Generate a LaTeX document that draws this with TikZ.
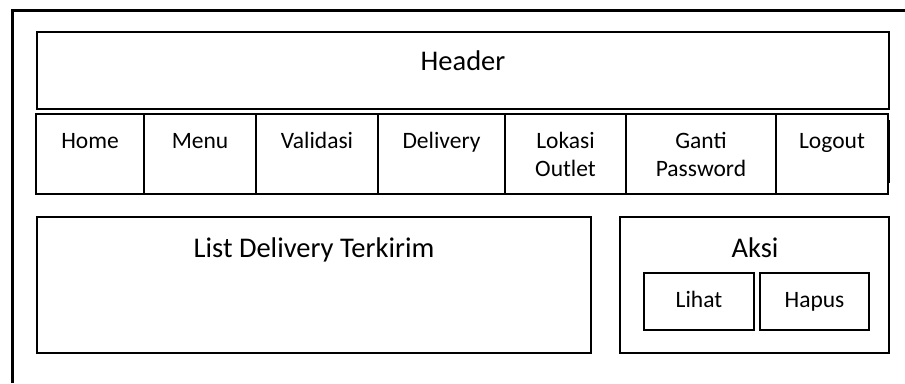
\documentclass[tikz,border=0pt]{standalone}
\usepackage{fontspec}
\setmainfont{Carlito}
\begin{document}
\begin{tikzpicture}[x=1pt,y=-1pt,
    box/.style={line width=2.2pt},
    frame/.style={line width=3pt},
    bigtext/.style={font=\fontsize{28.5}{34}\selectfont,inner sep=0pt,anchor=base},
    smalltext/.style={font=\fontsize{23.5}{28}\selectfont,inner sep=0pt,anchor=base,align=center}]
  \useasboundingbox (0,0) rectangle (905,383);
  % outer page
  \draw[frame] (12,383) -- (12,10) -- (905,10);
  % header
  \draw[box] (37,32) rectangle (889,109);
  \node[bigtext] (hdr) at (463,70) {Header};
  % menu bar (base = last line)
  \foreach \l/\r/\b/\t [count=\i] in {36/144/148/Home,144/256/148/Menu,256/378/148/Validasi,
      378/505/148/Delivery,505/626/176/{Lokasi\\Outlet},626/776/176/{Ganti\\Password},776/888/148/Logout}{
    \draw[box] (\l,114) rectangle (\r,194);
    \node[smalltext] (menu\i) at ({(\l+\r)/2},\b) {\t};
  }
  \draw[frame] (888.5,120) -- (888.5,183);
  % content
  \draw[box] (37,217) rectangle (591,353);
  \node[bigtext] (list) at (314,257) {List Delivery Terkirim};
  \draw[box] (620,217) rectangle (889,353);
  \node[bigtext] (aksi) at (755,257) {Aksi};
  \draw[box] (644,273) rectangle (754,330);
  \node[smalltext] (lihat) at (699,307) {Lihat};
  \draw[box] (760,273) rectangle (869,330);
  \node[smalltext] (hapus) at (814.5,307) {Hapus};
\end{tikzpicture}
\end{document}
